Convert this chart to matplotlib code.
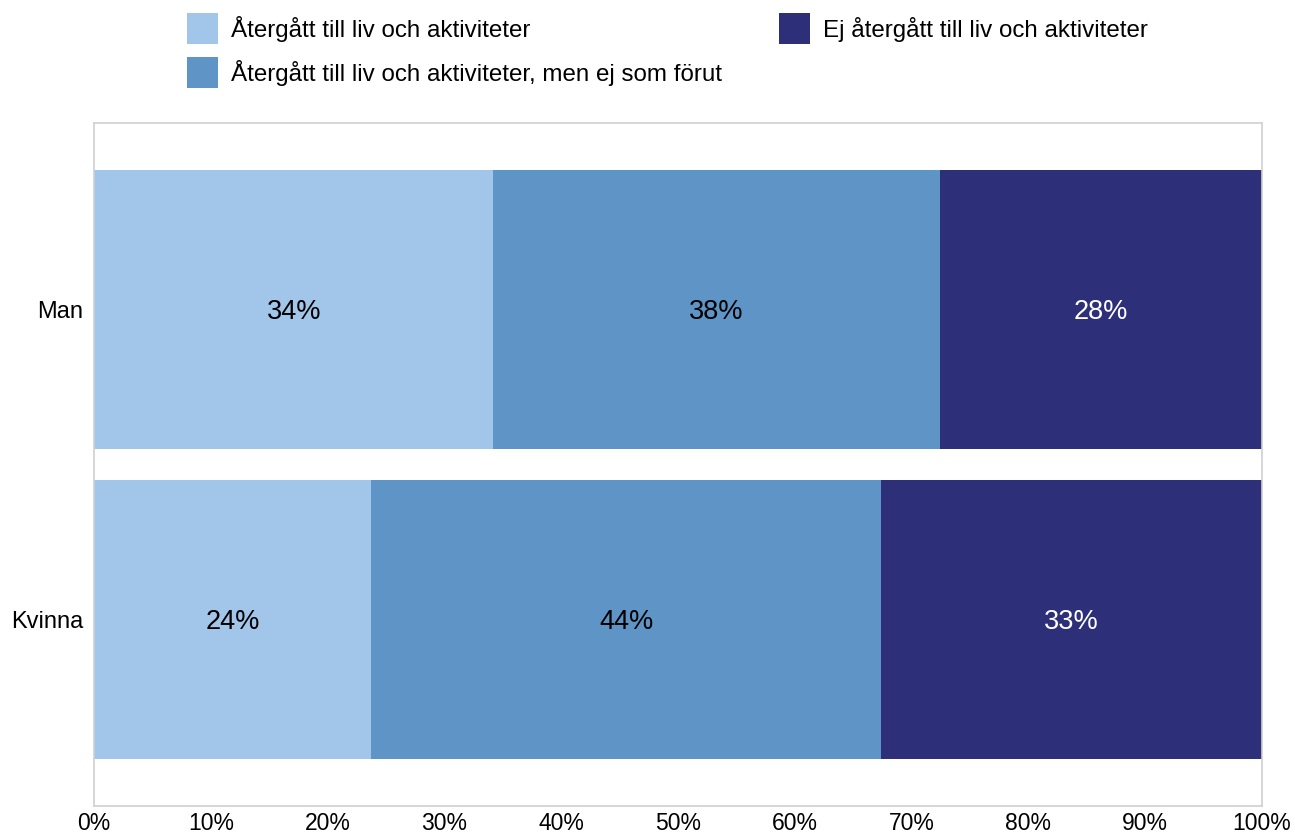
import matplotlib
matplotlib.use("Agg")
import matplotlib.pyplot as plt
from matplotlib.patches import Rectangle
from matplotlib.ticker import FuncFormatter

plt.rcParams['font.family'] = ['Liberation Sans', 'DejaVu Sans']

categories = ["Man", "Kvinna"]
series_names = [
    "Återgått till liv och aktiviteter",
    "Återgått till liv och aktiviteter, men ej som förut",
    "Ej återgått till liv och aktiviteter",
]
values = {
    series_names[0]: [34.2, 23.7],
    series_names[1]: [38.2, 43.7],
    series_names[2]: [27.6, 32.6],
}
colors = ["#a2c5ea", "#5f94c7", "#2d2f78"]
label_colors = ["black", "black", "white"]
x_ticks = list(range(0, 101, 10))

fig = plt.figure(figsize=(12.95, 8.36), dpi=100)
ax = fig.add_axes([94 / 1295, 1 - 806 / 836, (1262 - 94) / 1295, (806 - 123) / 836])

ypos = [1, 0]
left = [0.0, 0.0]
for name, col, tcol in zip(series_names, colors, label_colors):
    vals = values[name]
    ax.barh(ypos, vals, left=left, height=0.9, color=col, edgecolor="none")
    for y, v, l in zip(ypos, vals, left):
        ax.text(l + v / 2, y - 0.008, f"{round(v):.0f}%", ha="center", va="center",
                fontsize=19.5, color=tcol)
    left = [a + b for a, b in zip(left, vals)]

ax.set_xlim(0, 100)
ax.set_ylim(-0.6016, 1.6016)
ax.set_xticks(x_ticks)
ax.xaxis.set_major_formatter(FuncFormatter(lambda v, p: f"{v:.0f}%"))
ax.set_yticks(ypos)
ax.set_yticklabels(categories)
ax.tick_params(axis="y", length=0, labelsize=17, pad=8)
ax.tick_params(axis="x", length=0, labelsize=16.5, pad=4)
for s in ax.spines.values():
    s.set_color("#d0d0d0")
    s.set_linewidth(1.2)

# legend drawn in figure pixel coordinates
W, H = 1295, 836
legend_items = [
    (series_names[0], colors[0], 187, 29),
    (series_names[1], colors[1], 187, 73),
    (series_names[2], colors[2], 779, 29),
]
for name, col, x, yc in legend_items:
    fig.patches.append(Rectangle((x / W, 1 - (yc + 15) / H), 31 / W, 31 / H,
                                 transform=fig.transFigure, facecolor=col,
                                 edgecolor="none"))
    fig.text((x + 44) / W, 1 - yc / H, name, ha="left", va="center",
             fontsize=17.4)

fig.savefig("out.png", dpi=100)
